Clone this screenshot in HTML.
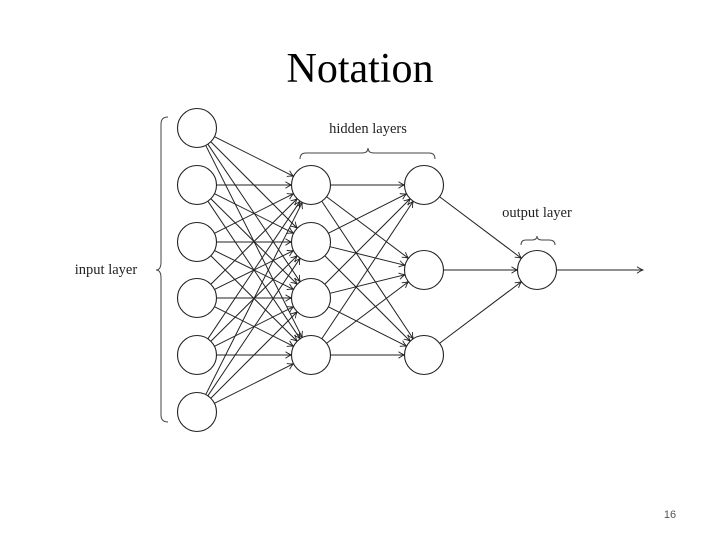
<!DOCTYPE html>
<html><head><meta charset="utf-8"><style>
html,body{margin:0;padding:0;background:#fff}
svg{display:block}
</style></head><body>
<svg id="s" width="720" height="540" viewBox="0 0 720 540" xmlns="http://www.w3.org/2000/svg">
<defs><marker id="a" markerWidth="8" markerHeight="8" refX="7" refY="4" orient="auto" markerUnits="userSpaceOnUse"><path d="M1,0.8 Q4,3 7,4 Q4,5 1,7.2" fill="none" stroke="#222" stroke-width="0.9"/></marker></defs>
<text x="360" y="82" text-anchor="middle" font-family="Liberation Serif, serif" font-size="42" fill="#000">Notation</text>
<g font-family="Liberation Serif, serif" font-size="14.5" fill="#222">
<text x="368" y="133" text-anchor="middle">hidden layers</text>
<text x="537" y="217" text-anchor="middle">output layer</text>
<text x="106" y="274" text-anchor="middle">input layer</text>
</g>
<g fill="none" stroke="#444" stroke-width="1">
<path d="M168,117 Q161,117 161,124 L161,262 Q161,270 156,270 Q161,270 161,278 L161,415 Q161,422 168,422"/>
<path d="M300,159 Q300,153 306,153 L362,153 Q368,153 368,148 Q368,153 374,153 L429,153 Q435,153 435,159"/>
<path d="M521,245 Q521,240 526,240 L532,240 Q537,240 537,236 Q537,240 542,240 L549,240 Q555,240 555,245"/>
</g>
<g id="e" stroke="#222" stroke-width="1" fill="none"></g>
<g id="n" stroke="#222" stroke-width="1.1" fill="#fff"></g>
<text x="670" y="518" text-anchor="middle" font-family="Liberation Sans, sans-serif" font-size="11" fill="#555">16</text>
</svg>
<script>
var L=[[197,[128,185,242,298,355,412]],[311,[185,242,298,355]],[424,[185,270,355]],[537,[270]]];
var r=19.5,ns="http://www.w3.org/2000/svg",e=document.getElementById('e'),n=document.getElementById('n');
function ln(x1,y1,x2,y2){var l=document.createElementNS(ns,'line');l.setAttribute('x1',x1);l.setAttribute('y1',y1);l.setAttribute('x2',x2);l.setAttribute('y2',y2);l.setAttribute('marker-end','url(#a)');e.appendChild(l);}
for(var i=0;i<3;i++){var A=L[i],B=L[i+1];A[1].forEach(function(y1){B[1].forEach(function(y2){var dx=B[0]-A[0],dy=y2-y1,d=Math.hypot(dx,dy),ux=dx/d,uy=dy/d;ln(A[0]+ux*r,y1+uy*r,B[0]-ux*r,y2-uy*r);});});}
ln(537+r,270,643,270);
L.forEach(function(c){c[1].forEach(function(y){var k=document.createElementNS(ns,'circle');k.setAttribute('cx',c[0]);k.setAttribute('cy',y);k.setAttribute('r',r);n.appendChild(k);});});
</script>
</body></html>
